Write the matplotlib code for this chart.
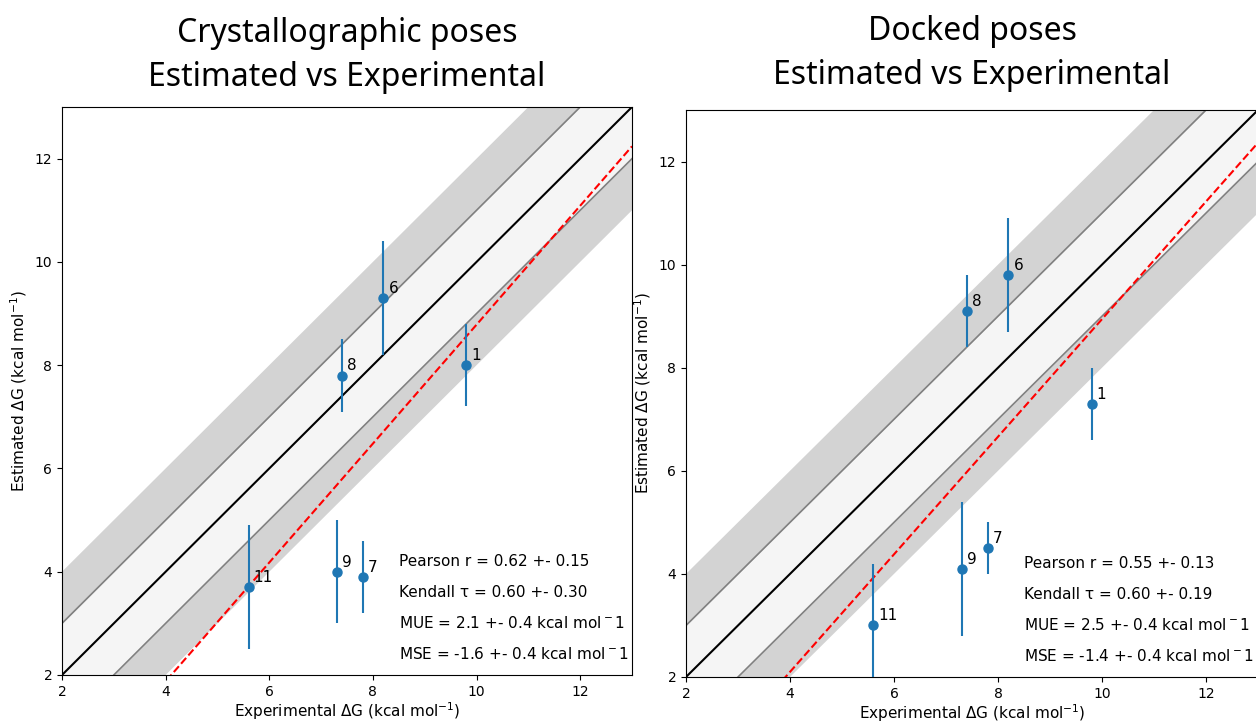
import numpy as np
import matplotlib
matplotlib.use('Agg')
import matplotlib.pyplot as plt

ligands = ['1', '6', '8', '9', '7', '11']
exp_dg = [9.8, 8.2, 7.4, 7.3, 7.8, 5.6]

cryst_dg = [8.0, 9.3, 7.8, 4.0, 3.9, 3.7]
cryst_err = [0.8, 1.1, 0.7, 1.0, 0.7, 1.2]
cryst_stats = ['Pearson r = 0.62 +- 0.15',
               'Kendall τ = 0.60 +- 0.30',
               r'MUE = 2.1 +- 0.4 kcal mol$^-1$',
               r'MSE = -1.6 +- 0.4 kcal mol$^-1$']

dock_dg = [7.3, 9.8, 9.1, 4.1, 4.5, 3.0]
dock_err = [0.7, 1.1, 0.7, 1.3, 0.5, 1.2]
dock_stats = ['Pearson r = 0.55 +- 0.13',
              'Kendall τ = 0.60 +- 0.19',
              r'MUE = 2.5 +- 0.4 kcal mol$^-1$',
              r'MSE = -1.4 +- 0.4 kcal mol$^-1$']

titles = ['Crystallographic poses\nEstimated vs Experimental',
          'Docked poses\nEstimated vs Experimental']

lims = (2, 13)
stat_y = [4.2, 3.6, 3.0, 2.4]


def draw(ax, x, y, yerr, stats, title, tpad):
    xs = np.array(lims, dtype=float)
    ax.fill_between(xs, xs - 2, xs + 2, color='lightgray', lw=0, zorder=0)
    ax.fill_between(xs, xs - 1, xs + 1, color='whitesmoke', lw=0, zorder=1)
    ax.plot(xs, xs + 1, color='gray', lw=1.2, zorder=2)
    ax.plot(xs, xs - 1, color='gray', lw=1.2, zorder=2)
    ax.plot(xs, xs, color='black', lw=1.5, zorder=3)
    # linear fit through the points
    slope, icpt = np.polyfit(x, y, 1)
    ax.plot(xs, slope * xs + icpt, color='red', ls='--', lw=1.5, zorder=3)
    ax.errorbar(x, y, yerr=yerr, fmt='o', color='tab:blue', ms=6.5,
                elinewidth=1.5, zorder=4)
    for lab, xi, yi in zip(ligands, x, y):
        ax.annotate(lab, (xi, yi), xytext=(xi + 0.1, yi + 0.1), fontsize=11)
    for s, sy in zip(stats, stat_y):
        ax.text(8.5, sy, s, fontsize=11, va='center')
    ax.set_xlim(lims)
    ax.set_ylim(lims)
    ax.set_xticks([2, 4, 6, 8, 10, 12])
    ax.set_yticks([2, 4, 6, 8, 10, 12])
    ax.set_xlabel(r'Experimental $\Delta$G (kcal mol$^{-1}$)', fontsize=11,
                  labelpad=1)
    ax.set_ylabel(r'Estimated $\Delta$G (kcal mol$^{-1}$)', fontsize=11,
                  labelpad=4)
    ax.set_title(title, fontsize=23, family='Noto Sans', linespacing=1.45,
                 pad=tpad)


fig = plt.figure(figsize=(12.56, 7.21), dpi=100)
ax1 = fig.add_axes([62 / 1256, 46 / 721, 570 / 1256, 568 / 721])
ax2 = fig.add_axes([686 / 1256, 44 / 721, 572 / 1256, 567 / 721])

draw(ax1, exp_dg, cryst_dg, cryst_err, cryst_stats, titles[0], 15)
draw(ax2, exp_dg, dock_dg, dock_err, dock_stats, titles[1], 18.5)

fig.savefig('out.png', dpi=100)
